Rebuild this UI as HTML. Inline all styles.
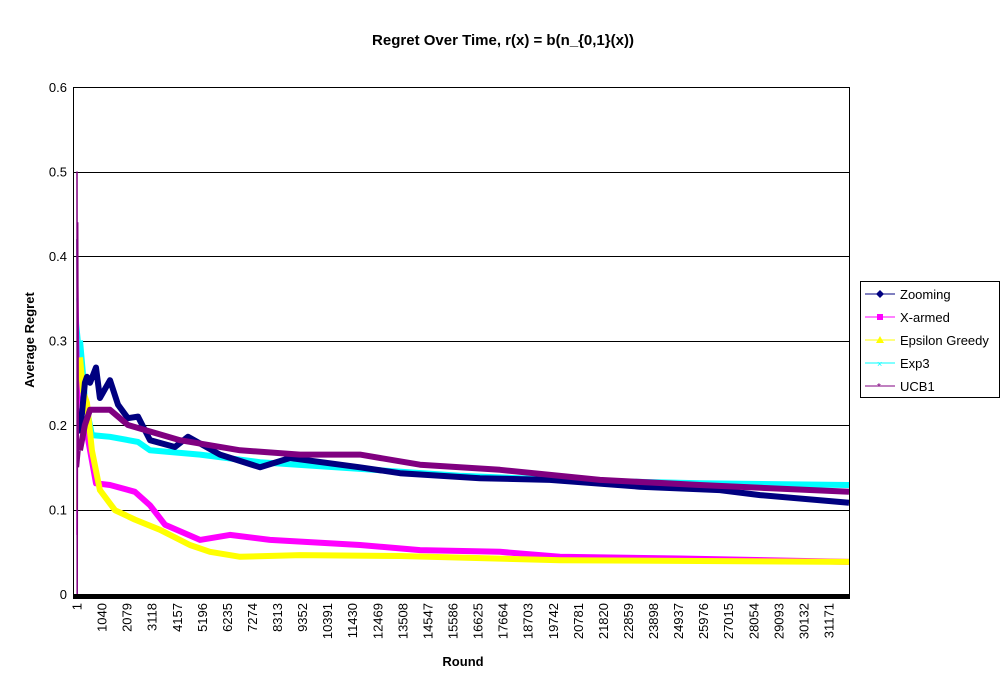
<!DOCTYPE html>
<html><head><meta charset="utf-8"><style>
body{margin:0;background:#fff;}
svg{display:block;font-family:"Liberation Sans",Arial,sans-serif;}
</style></head><body>
<svg id="chart" width="1007" height="688" viewBox="0 0 1007 688">
<text x="503" y="45" text-anchor="middle" font-size="15" font-weight="bold">Regret Over Time, r(x) = b(n_{0,1}(x))</text>
<text transform="translate(34,340) rotate(-90)" text-anchor="middle" font-size="13" font-weight="bold">Average Regret</text>
<text x="463" y="666" text-anchor="middle" font-size="13" font-weight="bold">Round</text>
<g id="grid"></g>
<g id="series"></g>
<g id="axes"></g>
<g>
<rect x="860.5" y="281.5" width="139" height="116" fill="#fff" stroke="#000"/>
<g><line x1="865" y1="294" x2="895" y2="294" stroke="#000080"/><path d="M880 290 L884 294 L880 298 L876 294Z" fill="#000080"/><text x="900" y="299" font-size="13">Zooming</text></g>
<g><line x1="865" y1="317" x2="895" y2="317" stroke="#ff00ff"/><rect x="877" y="314" width="6" height="6" fill="#ff00ff"/><text x="900" y="322" font-size="13">X-armed</text></g>
<g><line x1="865" y1="340" x2="895" y2="340" stroke="#ffff00"/><path d="M880 336 L884 343 L876 343Z" fill="#ffff00"/><text x="900" y="345" font-size="13">Epsilon Greedy</text></g>
<g><line x1="865" y1="363" x2="895" y2="363" stroke="#00ffff"/><text x="877" y="367" font-size="9" fill="#00ffff">×</text><text x="900" y="368" font-size="13">Exp3</text></g>
<g><line x1="865" y1="386" x2="895" y2="386" stroke="#800080"/><text x="877" y="390" font-size="10" fill="#800080">*</text><text x="900" y="391" font-size="13">UCB1</text></g>
</g>
</svg>
<script>
const yTicks=[0,0.1,0.2,0.3,0.4,0.5,0.6];
const yTickLabels=["0","0.1","0.2","0.3","0.4","0.5","0.6"];
const xTicks=[1,1040,2079,3118,4157,5196,6235,7274,8313,9352,10391,11430,12469,13508,14547,15586,16625,17664,18703,19742,20781,21820,22859,23898,24937,25976,27015,28054,29093,30132,31171];
const zoomingR=[1,30,125,330,415,540,790,950,1370,1700,2110,2530,3025,4060,4600,5930,7590,8830,11730,13390,16700,19600,23330,26650,28310,32000];
const zoomingV=[0.42,0.2,0.19,0.25,0.257,0.25,0.268,0.232,0.253,0.224,0.208,0.21,0.182,0.174,0.186,0.165,0.15,0.161,0.15,0.143,0.137,0.135,0.127,0.123,0.117,0.108];
const xarmedR=[1,20,60,125,250,415,790,1370,2400,3025,3650,5100,6340,8000,11730,14220,17530,20020,25000,32000];
const xarmedV=[0.07,0.39,0.3,0.22,0.2,0.19,0.131,0.129,0.121,0.105,0.082,0.064,0.07,0.064,0.058,0.052,0.05,0.044,0.042,0.038];
const epsR=[1,40,125,250,415,620,950,1580,2400,3440,4680,5510,6760,9240,13390,20020,32000];
const epsV=[0.1,0.25,0.28,0.24,0.226,0.17,0.123,0.099,0.088,0.076,0.058,0.05,0.044,0.046,0.045,0.04,0.038];
const exp3R=[1,60,125,250,330,620,1370,2530,3025,5100,7590,11730,15870,20020,25820,32000];
const exp3V=[0.35,0.32,0.3,0.26,0.23,0.188,0.186,0.18,0.17,0.165,0.156,0.148,0.14,0.135,0.131,0.129];
const ucbR=[1,10,30,60,125,330,540,1370,2110,4270,6760,9240,11730,14220,17530,21680,25820,32000];
const ucbV=[0.5,0.0,0.44,0.15,0.17,0.2,0.218,0.218,0.2,0.182,0.17,0.165,0.165,0.153,0.147,0.135,0.129,0.121];
const NS="http://www.w3.org/2000/svg";
const L=73,R=849,T=87,B=594,X0=77,XMAX=32000,THIN=130;
function xs(r){return X0+(r-1)/(XMAX-1)*(R-X0);}
function ys(v){return B-v/0.6*(B-T);}
const grid=document.getElementById('grid'),axes=document.getElementById('axes'),ser=document.getElementById('series');
yTicks.forEach((t,i)=>{
 const ln=document.createElementNS(NS,'line');
 ln.setAttribute('x1',L);ln.setAttribute('x2',R);ln.setAttribute('y1',Math.round(ys(t))+0.5);ln.setAttribute('y2',Math.round(ys(t))+0.5);ln.setAttribute('stroke','#000');
 
 
 grid.appendChild(ln);
 const tx=document.createElementNS(NS,'text');
 tx.setAttribute('x',67);tx.setAttribute('y',ys(t)+5);tx.setAttribute('text-anchor','end');tx.setAttribute('font-size','13');
 tx.textContent=yTickLabels[i];
 
 
 axes.appendChild(tx);
});
const frame=document.createElementNS(NS,'rect');
frame.setAttribute('x',L+0.5);frame.setAttribute('y',T+0.5);frame.setAttribute('width',R-L);frame.setAttribute('height',B-T);frame.setAttribute('fill','none');frame.setAttribute('stroke','#000');


axes.appendChild(frame);
const xb=document.createElementNS(NS,'rect');
xb.setAttribute('x',L);xb.setAttribute('y',B);xb.setAttribute('width',R-L+1);xb.setAttribute('height',5);xb.setAttribute('fill','#000');


axes.appendChild(xb);
xTicks.forEach(t=>{
 const tx=document.createElementNS(NS,'text');
 const x=xs(t);
 tx.setAttribute('transform','translate('+(x+4.5)+',603) rotate(-90)');
 tx.setAttribute('text-anchor','end');tx.setAttribute('font-size','13');
 tx.textContent=String(t);
 
 
 axes.appendChild(tx);
});
function drawSeries(rs,vs,color,name){
 const pts=rs.map((r,i)=>[xs(r),ys(vs[i]),r]);
 const thin=pts.filter(p=>p[2]<=THIN);
 const k=thin.length;
 const thick=pts.slice(Math.max(k-1,0));
 const p1=document.createElementNS(NS,'polyline');
 p1.setAttribute('points',thin.map(p=>p[0].toFixed(1)+','+p[1].toFixed(1)).join(' '));
 p1.setAttribute('fill','none');p1.setAttribute('stroke',color);p1.setAttribute('stroke-width','1.5');
 
 
 ser.appendChild(p1);
 const p=document.createElementNS(NS,'polyline');
 p.setAttribute('points',thick.map(p=>p[0].toFixed(1)+','+p[1].toFixed(1)).join(' '));
 p.setAttribute('fill','none');p.setAttribute('stroke',color);p.setAttribute('stroke-width','6');p.setAttribute('stroke-linejoin','round');
 
 
 ser.appendChild(p);
}
drawSeries(exp3R,exp3V,'#00ffff','series-exp3');
drawSeries(xarmedR,xarmedV,'#ff00ff','series-x-armed');
drawSeries(epsR,epsV,'#ffff00','series-epsilon-greedy');
drawSeries(zoomingR,zoomingV,'#000080','series-zooming');
drawSeries(ucbR,ucbV,'#800080','series-ucb1');
</script>
</body></html>
